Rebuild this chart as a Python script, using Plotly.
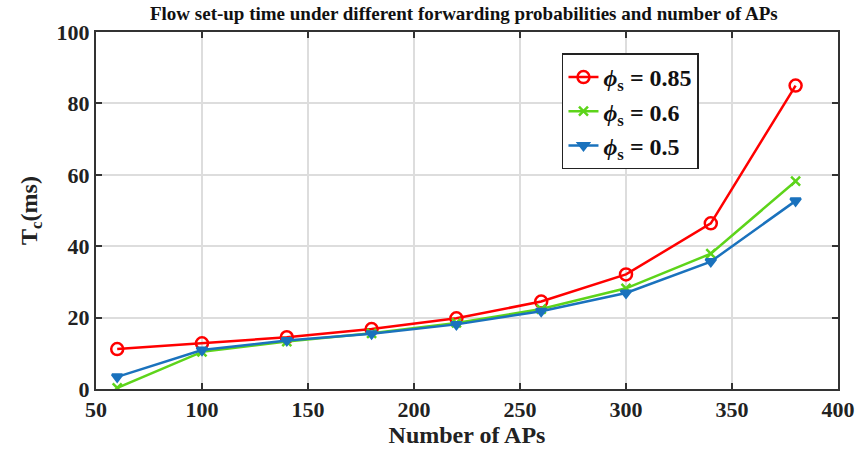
import plotly.graph_objects as go

aps = [60, 100, 140, 180, 220, 260, 300, 340, 380]
t_085 = [11.2, 12.8, 14.5, 16.8, 19.8, 24.5, 32.1, 46.4, 85.0]
t_06 = [0.3, 10.4, 13.3, 15.6, 18.5, 22.4, 28.2, 37.9, 58.2]
t_05 = [3.4, 10.9, 13.6, 15.5, 18.1, 21.8, 26.9, 35.7, 52.7]

series = [
    ("<b><i>ϕ</i><sub>s</sub> = 0.85</b>", t_085, "#FF0000", "circle-open", 12),
    ("<b><i>ϕ</i><sub>s</sub> = 0.6</b>", t_06, "#5DD41A", "x-thin", 9),
    ("<b><i>ϕ</i><sub>s</sub> = 0.5</b>", t_05, "#1A72BD", "triangle-down", 9),
]

fig = go.Figure()
for name, ys, color, sym, size in series:
    fig.add_trace(go.Scatter(
        x=aps, y=ys, name=name, mode="lines+markers",
        line=dict(color=color, width=2.5),
        marker=dict(symbol=sym, size=size, color=color,
                    line=dict(color=color, width=2.5)),
    ))

font_family = "Liberation Serif"
axis_common = dict(
    showline=True, linecolor="#333333", linewidth=2, mirror="ticks",
    ticks="inside", ticklen=6, tickwidth=1.5, tickcolor="#333333",
    showgrid=True, gridcolor="#DDDDDD", gridwidth=1.5, zeroline=False,
    tickfont=dict(family=font_family, size=22, color="#222222", weight="bold"),
)

fig.update_layout(
    width=867, height=456,
    margin=dict(l=96, r=19, t=32, b=67),
    paper_bgcolor="white", plot_bgcolor="white",
    font=dict(family=font_family, color="#222222"),
    title=dict(text="<b>Flow set-up time under different forwarding probabilities and number of APs</b>",
               x=0.535, xanchor="center", y=0.985, yanchor="top",
               font=dict(family=font_family, size=19, color="#111111")),
    xaxis=dict(range=[50, 400], dtick=50,
               title=dict(text="<b>Number of APs</b>", standoff=2,
                          font=dict(family=font_family, size=24, color="#222222")),
               **axis_common),
    yaxis=dict(range=[0, 100], dtick=20,
               title=dict(text="<b>T<sub>c</sub>(ms)</b>", standoff=12,
                          font=dict(family=font_family, size=24, color="#222222")),
               **axis_common),
    legend=dict(x=0.628, y=0.94, xanchor="left", yanchor="top",
                bgcolor="white", bordercolor="#222222", borderwidth=1.5,
                font=dict(family=font_family, size=24, color="#111111"),
                itemwidth=30, tracegroupgap=2),
    showlegend=True,
)

fig.write_html("out.html")
